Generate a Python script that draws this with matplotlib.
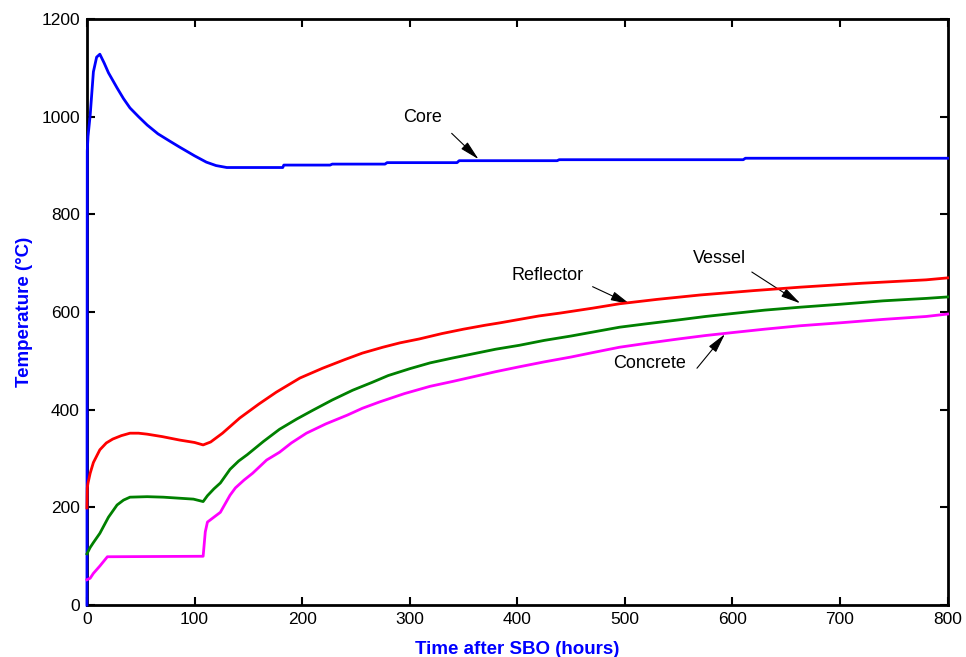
import matplotlib
matplotlib.use("Agg")
import matplotlib.pyplot as plt

plt.rcParams['font.family'] = ['Liberation Sans', 'DejaVu Sans']

# core temperature (hours, deg C)
core_t = [0, 0.3, 1, 3, 6, 9, 12, 16, 20, 28, 34, 40, 48, 56, 66, 77, 86, 100, 111, 120, 130,
          182, 183, 226, 228, 277, 279, 344, 346, 437, 439, 610, 612, 800]
core_T = [0, 930, 960, 1003, 1092, 1122, 1128, 1110, 1090, 1059, 1037, 1018, 1000, 983, 965, 950, 938, 920, 907, 900, 896,
          896, 901, 901, 903, 903, 906, 906, 910, 910, 912, 912, 915, 915]

refl_t = [0, 0.3, 1, 3, 6, 12, 18, 24, 32, 40, 48, 56, 70, 86, 100, 108, 115, 126, 142, 160,
          176, 198, 219, 240, 256, 275, 291, 309, 330, 350, 370, 384, 402, 420, 440, 470, 495,
          530, 570, 620, 663, 720, 780, 800]
refl_T = [199, 240, 250, 270, 292, 318, 332, 340, 347, 352, 352, 350, 345, 338, 333, 328, 334, 352, 383, 412,
          436, 465, 485, 503, 516, 528, 537, 545, 556, 565, 573, 578, 585, 592, 598, 608, 617,
          626, 635, 644, 651, 659, 666, 670]

vess_t = [0, 3, 6, 12, 20, 28, 34, 40, 56, 71, 85, 99, 108, 112, 118, 124, 133, 141, 149, 164, 179,
          195, 210, 228, 247, 265, 280, 300, 319, 340, 360, 380, 402, 425, 450, 470, 495,
          520, 550, 575, 600, 630, 663, 700, 740, 780, 800]
vess_T = [105, 118, 128, 147, 180, 205, 215, 221, 222, 221, 219, 217, 212, 224, 238, 250, 278, 295, 308, 335, 360,
          381, 399, 420, 440, 456, 470, 484, 496, 506, 515, 524, 532, 542, 551, 559, 569,
          576, 584, 591, 597, 604, 610, 616, 623, 628, 631]

conc_t = [0, 3, 6, 12, 19, 108, 110, 112, 118, 124, 133, 138, 146, 154, 167, 179, 190, 204, 222, 242,
          256, 272, 295, 319, 340, 360, 380, 402, 425, 450, 470, 495, 520, 550, 575, 600,
          630, 663, 700, 740, 780, 800]
conc_T = [52, 55, 65, 80, 99, 100, 150, 170, 180, 190, 225, 240, 256, 270, 297, 313, 332, 352, 371, 389,
          403, 416, 433, 448, 458, 468, 478, 488, 498, 508, 517, 528, 536, 545, 552, 558,
          565, 572, 578, 585, 591, 596]

fig = plt.figure(figsize=(9.66, 6.57), dpi=100)
ax = fig.add_axes([0.090, 0.079, 0.891, 0.892])

lw = 2.0
ax.plot(core_t, core_T, color='#0000ff', lw=lw, clip_on=False, zorder=3)
ax.plot(refl_t, refl_T, color='#ff0000', lw=lw, clip_on=False, zorder=4)
ax.plot(vess_t, vess_T, color='#008000', lw=lw, clip_on=False, zorder=4)
ax.plot(conc_t, conc_T, color='#ff00ff', lw=lw, clip_on=False, zorder=4)

ax.set_xlim(0, 800)
ax.set_ylim(0, 1200)
ax.set_xticks(range(0, 801, 100))
ax.set_yticks(range(0, 1201, 200))
ax.tick_params(direction='in', length=6, width=1.5, top=True, right=True,
               labelsize=12.5, pad=5)
for s in ax.spines.values():
    s.set_linewidth(2.0)

ax.set_xlabel('Time after SBO (hours)', color='#0000ff', fontsize=13.5, fontweight='bold', labelpad=10)
ax.set_ylabel('Temperature (°C)', color='#0000ff', fontsize=13.5, fontweight='bold', labelpad=6)

# labels with arrows pointing at each curve
arrow = dict(arrowstyle='-|>,head_length=0.6,head_width=0.14', color='k', lw=0.8,
             mutation_scale=20, shrinkA=0, shrinkB=0)
ax.annotate('', xy=(364, 913), xytext=(339, 966), arrowprops=arrow)
ax.text(312, 999, 'Core', fontsize=13, ha='center', va='center')
ax.annotate('', xy=(505, 616), xytext=(470, 652), arrowprops=arrow)
ax.text(428, 674, 'Reflector', fontsize=13, ha='center', va='center')
ax.annotate('', xy=(663, 618), xytext=(618, 682), arrowprops=arrow)
ax.text(588, 710, 'Vessel', fontsize=13, ha='center', va='center')
ax.annotate('', xy=(593, 555), xytext=(567, 485), arrowprops=arrow)
ax.text(523, 494, 'Concrete', fontsize=13, ha='center', va='center')

fig.savefig('out.png', dpi=100)
